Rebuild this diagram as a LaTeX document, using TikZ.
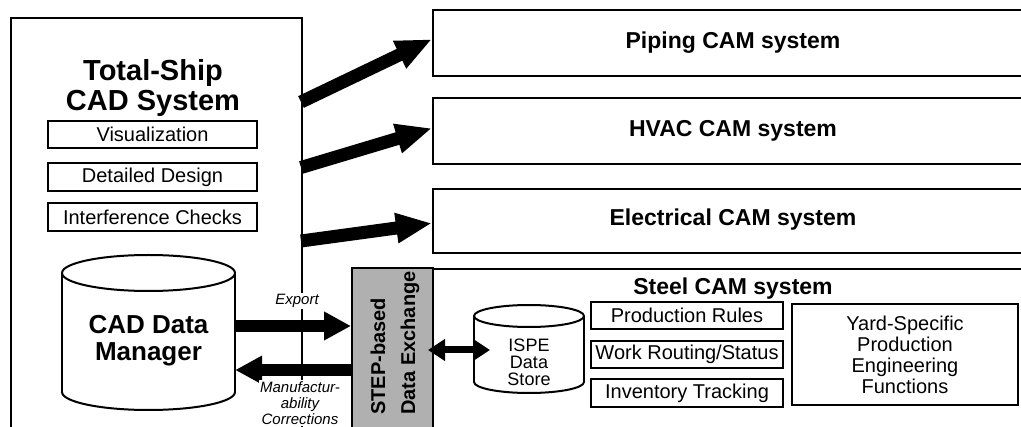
\documentclass[tikz,border=0pt]{standalone}
\usepackage{fontspec}
\setmainfont{Liberation Sans}
\usetikzlibrary{arrows.meta}
\begin{document}
\begin{tikzpicture}[x=1pt,y=-1pt,
  sysbox/.style={draw, line width=2.4pt, fill=white, inner sep=0pt},
  subbox/.style={draw, line width=2pt, fill=white, inner sep=0pt,
                 font=\fontsize{20}{21}\selectfont, align=center},
  bigtitle/.style={font=\bfseries\fontsize{29}{30}\selectfont, align=center, inner sep=0pt},
  camtitle/.style={font=\bfseries\fontsize{23}{24}\selectfont, inner sep=0pt},
  stepbox/.style={draw, line width=2pt, fill=black!31, inner sep=0pt},
  cylline/.style={draw, line width=2pt, fill=white},
  fatarrow/.style={line width=13pt, -{Triangle[length=36pt,width=28pt]}},
  flowarrow/.style={line width=12pt, -{Triangle[length=27pt,width=27pt]}},
  linkarrow/.style={line width=7pt,
    {Triangle[length=17pt,width=21pt]}-{Triangle[length=17pt,width=21pt]}},
  flowlabel/.style={font=\itshape\fontsize{15}{16}\selectfont, align=center,
                    fill=white, inner sep=1.5pt}
]
\useasboundingbox (0,0) rectangle (1021,427);
\clip (0,0) rectangle (1021,427);

% ---- total-ship CAD system (left) ----
\node[sysbox, line width=2pt, anchor=north west, minimum width=291pt, minimum height=460pt] (cadsys) at (10,17) {};
\node[bigtitle] (cadtitle) at (153,88) {Total-Ship\\CAD System};
\node[subbox, minimum width=209pt, minimum height=27pt] (vis) at (152.5,134.5) {Visualization};
\node[subbox, minimum width=209pt, minimum height=28pt] (detail) at (152.5,177) {Detailed Design};
\node[subbox, minimum width=209pt, minimum height=28pt] (interf) at (152.5,217) {Interference Checks};

% CAD data manager drum
\filldraw[cylline] (148.5,392) ellipse [x radius=86.5, y radius=18];
\fill[white] (62,273) rectangle (235,392);
\draw[line width=2pt] (62,273) -- (62,392) (235,273) -- (235,392);
\filldraw[cylline] (148.5,273) ellipse [x radius=86.5, y radius=18];
\node[font=\bfseries\fontsize{26}{27}\selectfont, align=center, inner sep=0pt,
      minimum width=173pt] (cadm) at (148.5,341) {CAD Data\\Manager};

% ---- CAM systems (right) ----
\node[sysbox, anchor=north west, minimum width=640pt, minimum height=66pt] (piping) at (432,9) {};
\node[camtitle] (pipingtitle) at (733,43) {Piping CAM system};
\node[sysbox, anchor=north west, minimum width=640pt, minimum height=66pt] (hvac) at (432,97) {};
\node[camtitle] (hvactitle) at (733,131) {HVAC CAM system};
\node[sysbox, anchor=north west, minimum width=640pt, minimum height=64pt] (elec) at (432,188) {};
\node[camtitle] (electitle) at (733,220) {Electrical CAM system};
\node[sysbox, anchor=north west, minimum width=640pt, minimum height=300pt] (steel) at (432,268) {};
\node[camtitle] (steeltitle) at (733,289) {Steel CAM system};

% ISPE data store drum
\filldraw[cylline] (529,382) ellipse [x radius=55, y radius=11];
\fill[white] (474,316) rectangle (584,382);
\draw[line width=2pt] (474,316) -- (474,382) (584,316) -- (584,382);
\filldraw[cylline] (529,316) ellipse [x radius=55, y radius=11];
\node[font=\fontsize{18}{17}\selectfont, align=center, inner sep=0pt,
      minimum width=110pt] (ispe) at (529,362) {ISPE\\Data\\Store};

\node[subbox, minimum width=192pt, minimum height=27pt] (prules) at (687,315.5) {Production Rules};
\node[subbox, minimum width=192pt, minimum height=27pt] (routing) at (687,354.5) {Work Routing/Status};
\node[subbox, minimum width=192pt, minimum height=28pt] (invent) at (687,393) {Inventory Tracking};
\node[subbox, minimum width=226pt, minimum height=101pt] (yard) at (905,354.5)
  {Yard-Specific\\Production\\Engineering\\Functions};

% ---- STEP exchange ----
\node[stepbox, anchor=north west, minimum width=81pt, minimum height=200pt] (step) at (351,267) {};
\node[rotate=90, anchor=west, align=left, inner sep=0pt,
      font=\bfseries\fontsize{20}{30}\selectfont] (steptext) at (395,415)
  {STEP-based\\Data Exchange};

% ---- connectors ----
\coordinate (p1) at (301,102);
\coordinate (p2) at (301,167.5);
\coordinate (p3) at (301,241);
\draw[fatarrow] (p1) -- ([yshift=4pt]piping.west);
\draw[fatarrow] (p2) -- ([yshift=3pt]hvac.west);
\draw[fatarrow] (p3) -- ([yshift=-2pt]elec.west);

\coordinate (yexp) at (0,326);
\coordinate (ycor) at (0,370);
\coordinate (ylink) at (0,350);
\draw[flowarrow] (cadm.east |- yexp) -- (step.west |- yexp);
\draw[flowarrow] (step.west |- ycor) -- (cadm.east |- ycor);
\draw[linkarrow, shorten <=-6pt, shorten >=39pt] (step.east |- ylink) -- (ispe.center |- ylink);

\node[flowlabel] (explabel) at (297,301) {Export};
\node[flowlabel] (corlabel) at (300,403) {Manufactur-\\ability\\Corrections};
\end{tikzpicture}
\end{document}
